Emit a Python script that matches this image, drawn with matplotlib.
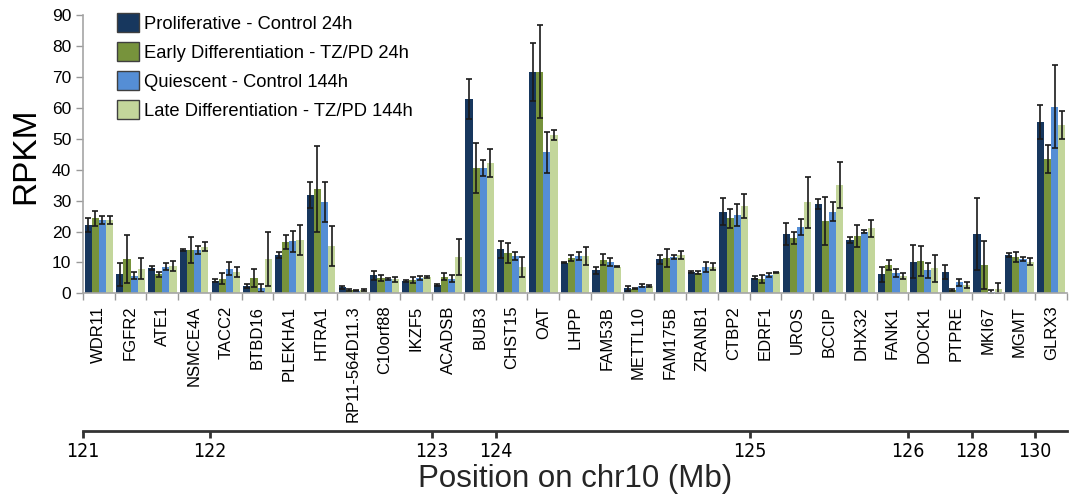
import matplotlib
matplotlib.use('Agg')
import matplotlib.pyplot as plt
from matplotlib.patches import Patch
from matplotlib import font_manager
import numpy as np

plt.rcParams['font.family'] = ['Liberation Sans', 'DejaVu Sans']

# values (RPKM, mean and error)
genes = ['WDR11', 'FGFR2', 'ATE1', 'NSMCE4A', 'TACC2', 'BTBD16', 'PLEKHA1', 'HTRA1',
         'RP11-564D11.3', 'C10orf88', 'IKZF5', 'ACADSB', 'BUB3', 'CHST15', 'OAT', 'LHPP',
         'FAM53B', 'METTL10', 'FAM175B', 'ZRANB1', 'CTBP2', 'EDRF1', 'UROS', 'BCCIP',
         'DHX32', 'FANK1', 'DOCK1', 'PTPRE', 'MKI67', 'MGMT', 'GLRX3']

prolif = [22.1, 6.1, 8.3, 14.0, 4.1, 2.4, 12.3, 31.8, 1.9, 5.8, 4.0, 2.7, 62.9, 14.2, 71.7, 9.9,
          7.5, 1.6, 11.0, 7.0, 26.4, 5.0, 19.2, 28.9, 17.2, 6.2, 10.2, 6.9, 19.2, 12.4, 55.4]
prolif_err = [2.4, 3.8, 0.6, 0.3, 0.6, 0.6, 1.0, 4.1, 0.6, 1.5, 0.2, 0.2, 6.6, 2.8, 9.4, 0.2,
              1.1, 0.9, 1.4, 0.3, 4.3, 0.5, 3.6, 1.7, 0.9, 2.4, 5.4, 2.3, 11.7, 0.5, 5.5]
early = [24.3, 11.1, 6.1, 14.0, 4.7, 5.0, 16.6, 33.9, 1.1, 4.9, 4.3, 5.4, 40.6, 13.1, 71.7, 11.5,
         10.8, 1.5, 11.3, 6.7, 24.3, 4.5, 18.0, 23.4, 18.6, 9.2, 10.5, 1.1, 9.2, 11.8, 43.5]
early_err = [2.4, 7.8, 0.9, 4.3, 1.8, 2.8, 2.2, 13.9, 0.3, 1.0, 1.1, 1.1, 8.1, 3.3, 15.0, 1.0,
             1.8, 0.2, 2.9, 0.4, 3.0, 1.3, 1.9, 7.9, 3.5, 1.5, 4.8, 0.3, 7.7, 1.6, 4.4]
quiesc = [23.7, 5.7, 8.6, 14.0, 8.0, 1.6, 16.8, 29.5, 0.8, 4.6, 5.0, 4.7, 40.6, 12.1, 45.6, 12.1,
          10.0, 2.5, 11.8, 8.4, 25.3, 5.9, 21.4, 26.4, 19.9, 6.5, 7.5, 3.6, 0.5, 11.2, 60.4]
quiesc_err = [1.3, 1.2, 1.1, 1.3, 2.1, 1.3, 3.4, 6.4, 0.2, 0.4, 0.7, 1.1, 2.5, 1.2, 6.6, 1.2,
              1.3, 0.4, 0.6, 1.6, 3.6, 0.6, 2.6, 3.1, 0.5, 1.3, 2.4, 1.1, 0.6, 0.6, 13.5]
late = [23.7, 8.0, 8.9, 15.1, 6.9, 11.0, 17.2, 15.3, 1.1, 4.5, 5.4, 11.8, 42.1, 8.6, 51.2, 12.1,
        8.6, 2.4, 12.4, 8.6, 28.3, 6.8, 29.4, 35.0, 21.0, 5.6, 8.1, 2.7, 1.5, 10.2, 54.6]
late_err = [1.2, 3.5, 1.6, 1.4, 1.7, 8.7, 4.9, 6.5, 0.3, 0.8, 0.3, 5.9, 4.6, 3.2, 1.6, 2.8,
            0.2, 0.4, 1.4, 1.2, 3.8, 0.2, 8.3, 7.4, 2.7, 1.0, 4.4, 0.9, 1.8, 1.1, 4.5]

series_names = ['Proliferative - Control 24h', 'Early Differentiation - TZ/PD 24h',
                'Quiescent - Control 144h', 'Late Differentiation - TZ/PD 144h']
colors = ['#17375E', '#77933C', '#558ED5', '#C3D69B']

# chromosome position axis (Mb), placed at gene boundaries
mb_labels = ['121', '122', '123', '124', '125', '126', '128', '130']
mb_after_gene = [0, 4, 11, 13, 21, 26, 28, 30]   # tick sits before this gene index

# narrow font for the Mb numbers, if one is around
installed = {f.name for f in font_manager.fontManager.ttflist}
if 'Liberation Sans Narrow' in installed:
    mb_font = dict(family='Liberation Sans Narrow', fontsize=14)
else:
    mb_font = dict(family='DejaVu Sans', stretch='condensed', fontsize=14)

W, H = 1078, 496
fig = plt.figure(figsize=(W / 100, H / 100), dpi=100)

left, right, top, bottom = 83, 1067, 15.3, 293.3
ax = fig.add_axes([left / W, 1 - bottom / H, (right - left) / W, (bottom - top) / H])

x = np.arange(len(genes))
bw = 0.225
all_vals = [prolif, early, quiesc, late]
all_errs = [prolif_err, early_err, quiesc_err, late_err]
for i, (vals, errs, c, name) in enumerate(zip(all_vals, all_errs, colors, series_names)):
    ax.bar(x + (i - 1.5) * bw, vals, width=bw, color=c, label=name,
           yerr=errs, error_kw=dict(ecolor='#1a1a1a', elinewidth=1.2, capsize=2.5, capthick=1.2))

ax.set_xlim(-0.5, len(genes) - 0.5)
ax.set_ylim(0, 90)
ax.set_yticks(range(0, 91, 10))
ax.tick_params(axis='y', colors='#999999', labelcolor='black', labelsize=12.5, length=5, width=1)

ax.set_xticks(np.arange(-0.5, len(genes), 1))
ax.set_xticklabels([])
ax.tick_params(axis='x', which='major', colors='#999999', length=5, width=1)
ax.set_xticks(x, minor=True)
ax.set_xticklabels(genes, minor=True, rotation=90, fontsize=12)
ax.tick_params(axis='x', which='minor', length=0, pad=9)

for s in ['top', 'right']:
    ax.spines[s].set_visible(False)
for s in ['left', 'bottom']:
    ax.spines[s].set_color('#a6a6a6')
    ax.spines[s].set_linewidth(1.2)

fig.text(26 / W, 1 - 156 / H, 'RPKM', rotation=90, fontsize=24, ha='center', va='center')

handles = [Patch(facecolor=c, edgecolor='#3f3f3f', linewidth=1, label=n)
           for c, n in zip(colors, series_names)]
ax.legend(handles=handles, loc='upper left', bbox_to_anchor=(117 / W, 1 - 13 / H),
          bbox_transform=fig.transFigure, frameon=False, fontsize=13.2,
          handlelength=1.2, handleheight=1.2, handletextpad=0.3, labelspacing=0.52,
          borderpad=0, borderaxespad=0)

# lower axis with genomic positions
ax2 = fig.add_axes([left / W, 1 - 430.7 / H, (right - left) / W, 0.001])
ax2.set_xlim(-0.5, len(genes) - 0.5)
ax2.set_yticks([])
ax2.patch.set_alpha(0)
for s in ['top', 'right', 'left']:
    ax2.spines[s].set_visible(False)
ax2.spines['bottom'].set_linewidth(2)
ax2.spines['bottom'].set_color('#333333')
ax2.set_xticks([g - 0.5 for g in mb_after_gene])
ax2.set_xticklabels(mb_labels, **mb_font)
ax2.tick_params(axis='x', length=5, width=2, color='#333333', pad=3)

fig.text((left + right) / 2 / W, 1 - 487 / H, 'Position on chr10 (Mb)', fontsize=22.5,
         color='#262626', ha='center', va='baseline')

fig.savefig('out.png', dpi=100)
